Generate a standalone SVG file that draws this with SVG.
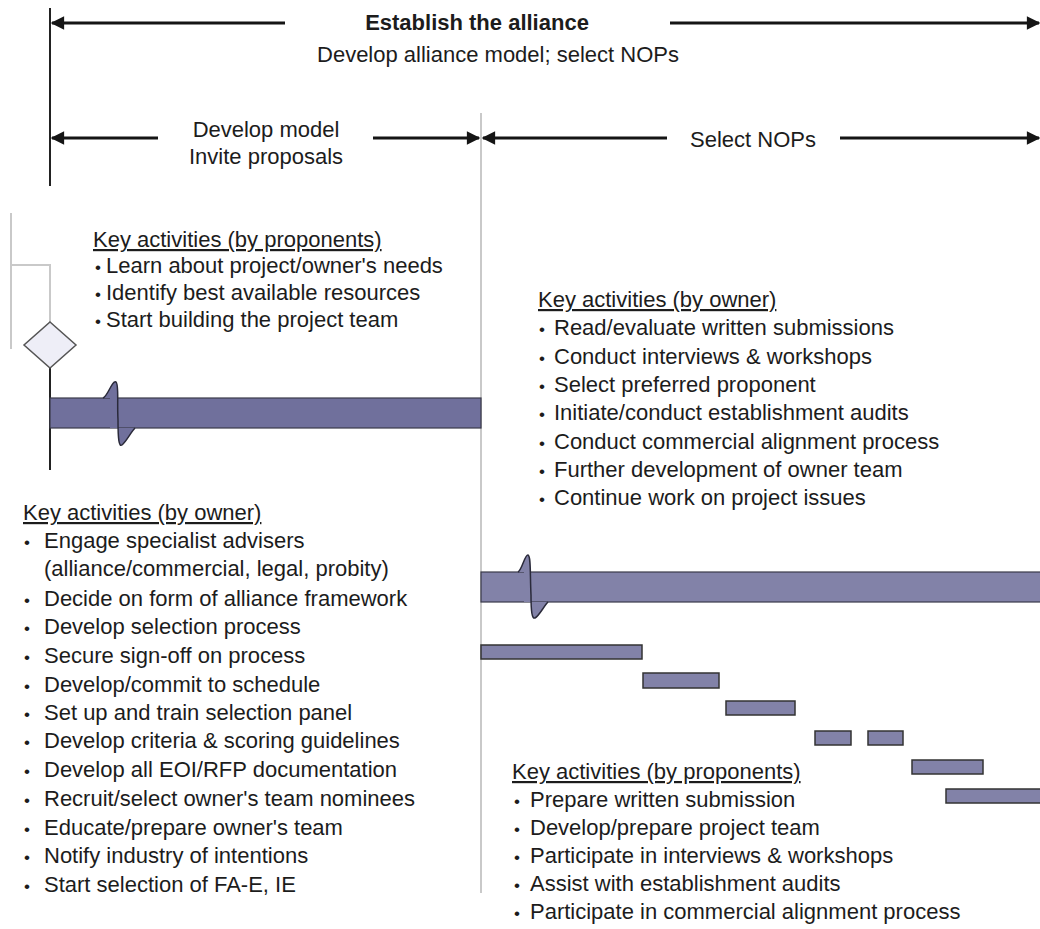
<svg xmlns="http://www.w3.org/2000/svg" width="1040" height="929" viewBox="0 0 1040 929">
<defs>
<style>
text{font-family:"Liberation Sans",Arial,sans-serif;font-size:22px;fill:#1c1c1c}
.b{font-weight:bold}
.h{text-decoration:underline}
.d{font-size:17px}
.arr{stroke:#151515;stroke-width:3;fill:none}
.blk{stroke:#222;stroke-width:2;fill:none}
.gry{stroke:#c9c9c9;stroke-width:2;fill:none}
.bar{fill:#70709c;stroke:#3a3a4a;stroke-width:1.2}
.bar2{fill:#8282a8;stroke:#3a3a4a;stroke-width:1.2}
.sm{fill:#8282a8;stroke:#333;stroke-width:1.5}
.sq{stroke:#2a2a3a;stroke-width:1.5}
</style>
<marker id="ah" viewBox="0 0 10 10" refX="9" refY="5" markerWidth="5" markerHeight="4.5" orient="auto-start-reverse" markerUnits="strokeWidth">
<path d="M0,0 L10,5 L0,10 Z" fill="#151515"/>
</marker>
</defs>
<rect width="1040" height="929" fill="#ffffff"/>

<g id="connectors">
<line class="blk" x1="50" y1="8" x2="50" y2="186"/>
<line class="arr" x1="285" y1="23" x2="52" y2="23" marker-end="url(#ah)"/>
<line class="arr" x1="670" y1="23" x2="1039" y2="23" marker-end="url(#ah)"/>
<line class="arr" x1="158" y1="138" x2="52" y2="138" marker-end="url(#ah)"/>
<line class="arr" x1="373" y1="138" x2="479" y2="138" marker-end="url(#ah)"/>
<line class="arr" x1="667" y1="138" x2="483" y2="138" marker-end="url(#ah)"/>
<line class="arr" x1="840" y1="138" x2="1039" y2="138" marker-end="url(#ah)"/>
<line class="gry" x1="481" y1="113" x2="481" y2="893"/>
<line class="gry" x1="11" y1="213" x2="11" y2="349" stroke-width="1.5"/>
<polyline class="gry" points="11,265 50,265 50,322" stroke-width="1.5"/>
<line class="blk" x1="50" y1="368" x2="50" y2="470"/>
</g>

<g id="headers">
<text class="b" x="477" y="30" text-anchor="middle">Establish the alliance</text>
<text x="498" y="62" text-anchor="middle">Develop alliance model; select NOPs</text>
<text x="266" y="137" text-anchor="middle">Develop model</text>
<text x="266" y="164" text-anchor="middle">Invite proposals</text>
<text x="753" y="147" text-anchor="middle">Select NOPs</text>
</g>

<g id="milestone">
<polygon points="50,322 76,345 50,368 24,345" fill="#eeeef7" stroke="#555" stroke-width="1.5"/>
</g>

<g id="bar-left">
<rect class="bar" x="50" y="398" width="431" height="30"/>
<path d="M103,398 C108,396 112,380 116,382 C119,384 117,400 118,420 C118,440 119,447 122,445 C126,442 131,432 135,428 L110,428 L110,398 Z" fill="#70709c"/>
<path class="sq" fill="none" d="M103,398 C108,396 112,380 116,382 C119,384 117,400 118,420 C118,440 119,447 122,445 C126,442 131,432 135,428"/>
</g>

<g id="bar-right">
<rect class="bar2" x="481" y="572" width="562" height="30"/>
<path d="M518,572 C522,570 525,554 528,555 C531,556 530,575 531,595 C531,612 532,619 535,618 C539,616 544,606 548,602 L524,602 L524,572 Z" fill="#8282a8"/>
<path class="sq" fill="none" d="M518,572 C522,570 525,554 528,555 C531,556 530,575 531,595 C531,612 532,619 535,618 C539,616 544,606 548,602"/>
</g>

<g id="tasks">
<rect class="sm" x="481" y="645" width="161" height="14"/>
<rect class="sm" x="643" y="673" width="76" height="15"/>
<rect class="sm" x="726" y="701" width="69" height="14"/>
<rect class="sm" x="815" y="731" width="36" height="14"/>
<rect class="sm" x="868" y="731" width="35" height="14"/>
<rect class="sm" x="912" y="760" width="71" height="14"/>
<rect class="sm" x="946" y="789" width="98" height="14"/>
</g>

<g id="list-proponents-1">
<text class="h" x="93" y="247">Key activities (by proponents)</text>
<text x="95" y="273"><tspan class="d">•</tspan><tspan x="106">Learn about project/owner's needs</tspan></text>
<text x="95" y="300"><tspan class="d">•</tspan><tspan x="106">Identify best available resources</tspan></text>
<text x="95" y="327"><tspan class="d">•</tspan><tspan x="106">Start building the project team</tspan></text>
</g>

<g id="list-owner-2">
<text class="h" x="538" y="307">Key activities (by owner)</text>
<text x="539" y="335"><tspan class="d">•</tspan><tspan x="554">Read/evaluate written submissions</tspan></text>
<text x="539" y="364"><tspan class="d">•</tspan><tspan x="554">Conduct interviews &amp; workshops</tspan></text>
<text x="539" y="392"><tspan class="d">•</tspan><tspan x="554">Select preferred proponent</tspan></text>
<text x="539" y="420"><tspan class="d">•</tspan><tspan x="554">Initiate/conduct establishment audits</tspan></text>
<text x="539" y="449"><tspan class="d">•</tspan><tspan x="554">Conduct commercial alignment process</tspan></text>
<text x="539" y="477"><tspan class="d">•</tspan><tspan x="554">Further development of owner team</tspan></text>
<text x="539" y="505"><tspan class="d">•</tspan><tspan x="554">Continue work on project issues</tspan></text>
</g>

<g id="list-owner-1">
<text class="h" x="23" y="520">Key activities (by owner)</text>
<text x="24" y="548"><tspan class="d">•</tspan><tspan x="44">Engage specialist advisers</tspan></text>
<text x="44" y="576">(alliance/commercial, legal, probity)</text>
<text x="24" y="606"><tspan class="d">•</tspan><tspan x="44">Decide on form of alliance framework</tspan></text>
<text x="24" y="634"><tspan class="d">•</tspan><tspan x="44">Develop selection process</tspan></text>
<text x="24" y="663"><tspan class="d">•</tspan><tspan x="44">Secure sign-off on process</tspan></text>
<text x="24" y="692"><tspan class="d">•</tspan><tspan x="44">Develop/commit to schedule</tspan></text>
<text x="24" y="720"><tspan class="d">•</tspan><tspan x="44">Set up and train selection panel</tspan></text>
<text x="24" y="748"><tspan class="d">•</tspan><tspan x="44">Develop criteria &amp; scoring guidelines</tspan></text>
<text x="24" y="777"><tspan class="d">•</tspan><tspan x="44">Develop all EOI/RFP documentation</tspan></text>
<text x="24" y="806"><tspan class="d">•</tspan><tspan x="44">Recruit/select owner's team nominees</tspan></text>
<text x="24" y="835"><tspan class="d">•</tspan><tspan x="44">Educate/prepare owner's team</tspan></text>
<text x="24" y="863"><tspan class="d">•</tspan><tspan x="44">Notify industry of intentions</tspan></text>
<text x="24" y="892"><tspan class="d">•</tspan><tspan x="44">Start selection of FA-E, IE</tspan></text>
</g>

<g id="list-proponents-2">
<text class="h" x="512" y="779">Key activities (by proponents)</text>
<text x="514" y="807"><tspan class="d">•</tspan><tspan x="530">Prepare written submission</tspan></text>
<text x="514" y="835"><tspan class="d">•</tspan><tspan x="530">Develop/prepare project team</tspan></text>
<text x="514" y="863"><tspan class="d">•</tspan><tspan x="530">Participate in interviews &amp; workshops</tspan></text>
<text x="514" y="891"><tspan class="d">•</tspan><tspan x="530">Assist with establishment audits</tspan></text>
<text x="514" y="919"><tspan class="d">•</tspan><tspan x="530">Participate in commercial alignment process</tspan></text>
</g>
</svg>
